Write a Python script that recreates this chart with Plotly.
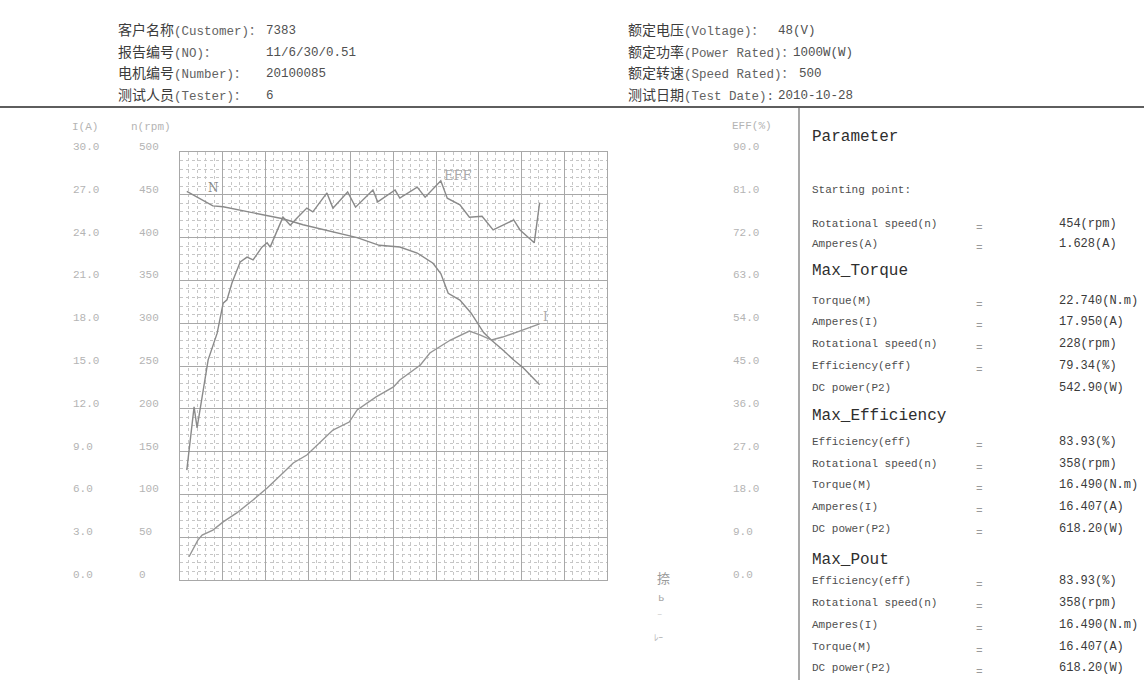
import plotly.graph_objects as go

W, H = 1144, 680
MONO = "Liberation Mono, Noto Sans CJK SC, monospace"

# ---- curve data (x = torque, N.m) ----
speed_torque = [0.43, 2.08, 2.73, 4.62, 6.51, 7.78, 9.94, 11.2, 12.6, 13.9, 15.0, 16.0,
                16.49, 16.96, 17.7, 18.4, 19.2, 19.7, 20.4, 21.1, 21.7, 22.3, 22.74]
speed_rpm = [454, 437, 436, 429, 422, 415, 405, 400, 391, 389, 382, 370,
             358, 335, 327, 312, 289, 280, 269, 257, 248, 237, 228]

eff_torque = [0.43, 0.89, 1.08, 1.78, 2.35, 2.73, 2.97, 3.29, 3.81, 4.24, 4.62, 5.18,
              5.51, 5.70, 6.51, 6.97, 7.40, 8.02, 8.40, 9.29, 9.67, 10.6, 11.1, 12.2,
              12.5, 13.6, 13.9, 15.0, 15.5, 16.49, 16.9, 17.7, 18.3, 19.1, 19.8, 21.1,
              21.5, 22.4, 22.74]
eff_pct = [23.1, 36.4, 32.0, 46.3, 51.9, 58.2, 58.9, 62.5, 66.9, 67.9, 67.3, 70.0,
           70.9, 70.0, 76.3, 74.6, 76.1, 78.2, 77.4, 81.4, 78.2, 81.6, 78.4, 82.0,
           79.5, 82.0, 80.3, 82.6, 80.5, 83.93, 80.3, 78.9, 76.3, 76.5, 73.6, 75.7,
           73.6, 70.9, 79.34]

amp_torque = [0.57, 1.13, 1.40, 2.08, 2.73, 3.59, 4.62, 5.51, 6.51, 7.16, 8.02, 8.67,
              9.67, 10.7, 11.2, 12.4, 13.5, 13.9, 15.2, 15.8, 16.49, 17.1, 18.3, 19.0,
              19.7, 20.4, 21.3, 22.0, 22.74]
amp_a = [1.628, 2.80, 3.15, 3.50, 4.07, 4.70, 5.61, 6.45, 7.50, 8.20, 8.76, 9.46,
         10.51, 11.07, 11.92, 12.83, 13.53, 14.02, 15.07, 15.91, 16.407, 16.82, 17.45, 17.17,
         16.82, 17.03, 17.38, 17.66, 17.95]

# ---- axis tick labels ----
current_ticks = [0, 3, 6, 9, 12, 15, 18, 21, 24, 27, 30]
speed_ticks = [0, 50, 100, 150, 200, 250, 300, 350, 400, 450, 500]
eff_ticks = [0, 9, 18, 27, 36, 45, 54, 63, 72, 81, 90]

# ---- report header ----
header_left = [
    ("客户名称", "(Customer)：", "7383"),
    ("报告编号", "(NO)：", "11/6/30/0.51"),
    ("电机编号", "(Number)：", "20100085"),
    ("测试人员", "(Tester)：", "6"),
]
header_right = [
    ("额定电压", "(Voltage)：", "48(V)", 777),
    ("额定功率", "(Power Rated)：", "1000W(W)", 792),
    ("额定转速", "(Speed Rated)：", "500", 798),
    ("测试日期", "(Test Date):", "2010-10-28", 777),
]
header_rows_y = [31, 53, 74, 96]

# ---- parameter panel: (kind, label, value, has "=" sign, y) ----
panel_rows = [
    ("title", "Parameter", "", False, 137),
    ("text", "Starting point:", "", False, 190),
    ("text", "Rotational speed(n)", "454(rpm)", True, 224),
    ("text", "Amperes(A)", "1.628(A)", True, 244),
    ("title", "Max_Torque", "", False, 271),
    ("text", "Torque(M)", "22.740(N.m)", True, 301),
    ("text", "Amperes(I)", "17.950(A)", True, 322),
    ("text", "Rotational speed(n)", "228(rpm)", True, 344),
    ("text", "Efficiency(eff)", "79.34(%)", True, 366),
    ("text", "DC power(P2)", "542.90(W)", False, 388),
    ("title", "Max_Efficiency", "", False, 416),
    ("text", "Efficiency(eff)", "83.93(%)", True, 442),
    ("text", "Rotational speed(n)", "358(rpm)", True, 464),
    ("text", "Torque(M)", "16.490(N.m)", True, 485),
    ("text", "Amperes(I)", "16.407(A)", True, 507),
    ("text", "DC power(P2)", "618.20(W)", True, 529),
    ("title", "Max_Pout", "", False, 560),
    ("text", "Efficiency(eff)", "83.93(%)", True, 581),
    ("text", "Rotational speed(n)", "358(rpm)", True, 603),
    ("text", "Amperes(I)", "16.490(N.m)", True, 625),
    ("text", "Torque(M)", "16.407(A)", True, 647),
    ("text", "DC power(P2)", "618.20(W)", True, 668),
]

CURVE = "#8a8a8a"
MAJOR = "#a8a8a8"
MINOR = "#c6c6c6"
AXIS_TXT = "#b4b4b4"


def px(x):
    return x / W


def py(y):
    return 1 - y / H


annotations = []


def text_at(x, y, text, size, color, anchor="left", family=MONO):
    annotations.append(dict(
        x=px(x), y=py(y), xref="paper", yref="paper", text=text, showarrow=False,
        xanchor=anchor, yanchor="middle", borderpad=0,
        font=dict(family=family, size=size, color=color)))


# header block
for (cn, en, val), y in zip(header_left, header_rows_y):
    text_at(117, y, f'<span style="color:#3c3c3c;font-size:14px">{cn}</span>{en}', 12.5, "#626262")
    text_at(265, y, val, 12.5, "#505050")
for (cn, en, val, vx), y in zip(header_right, header_rows_y):
    text_at(627, y, f'<span style="color:#3c3c3c;font-size:14px">{cn}</span>{en}', 12.5, "#626262")
    text_at(vx, y, val, 12.5, "#505050")

# axis titles
text_at(71, 127, "I(A)", 11, AXIS_TXT)
text_at(130, 127, "n(rpm)", 11, AXIS_TXT)
text_at(731, 126, "EFF(%)", 11, AXIS_TXT)

# axis tick labels placed through each curve's own y axis
for v in current_ticks:
    annotations.append(dict(x=px(71), y=v, xref="paper", yref="y2", text=f"{v:.1f}",
                            showarrow=False, xanchor="left", yanchor="middle", yshift=5,
                            font=dict(family=MONO, size=11, color=AXIS_TXT)))
for v in speed_ticks:
    annotations.append(dict(x=px(137), y=v, xref="paper", yref="y", text=f"{v}",
                            showarrow=False, xanchor="left", yanchor="middle", yshift=5,
                            font=dict(family=MONO, size=11, color=AXIS_TXT)))
for v in eff_ticks:
    annotations.append(dict(x=px(731), y=v, xref="paper", yref="y3", text=f"{v:.1f}",
                            showarrow=False, xanchor="left", yanchor="middle", yshift=5,
                            font=dict(family=MONO, size=11, color=AXIS_TXT)))

# hand-written curve names
annotations.append(dict(x=2.1, y=458, xref="x", yref="y", text="N", showarrow=False,
                        font=dict(family="DejaVu Serif", size=12, color="#8a8a8a")))
annotations.append(dict(x=17.6, y=473, xref="x", yref="y", text="EFF", showarrow=False,
                        font=dict(family="DejaVu Serif", size=13, color="#ababab")))
annotations.append(dict(x=23.1, y=307, xref="x", yref="y", text="I", showarrow=False,
                        font=dict(family="DejaVu Serif", size=12, color="#ababab")))

# parameter panel
for kind, label, val, eq, y in panel_rows:
    if kind == "title":
        text_at(811, y, label, 16, "#2e2e2e")
    else:
        text_at(811, y, label, 11, "#4e4e4e")
    if eq:
        text_at(975, y + 4, "=", 11, "#9a9a9a")
    if val:
        text_at(1058, y, val, 12, "#3a3a3a")

# faint marks on the paper
text_at(656, 577, "捺", 13, "#9a9a9a", family="Noto Sans CJK SC")
text_at(657, 598, "ь", 11, "#a8a8a8")
text_at(656, 615, "‒", 9, "#cccccc")
text_at(653, 637, "ﾚｰ", 9, "#b0b0b0", family="Noto Sans CJK JP")

fig = go.Figure()
fig.add_trace(go.Scatter(x=speed_torque, y=speed_rpm, mode="lines", yaxis="y",
                         line=dict(color=CURVE, width=1.4), name="n"))
fig.add_trace(go.Scatter(x=eff_torque, y=eff_pct, mode="lines", yaxis="y3",
                         line=dict(color=CURVE, width=1.4), name="EFF"))
fig.add_trace(go.Scatter(x=amp_torque, y=amp_a, mode="lines", yaxis="y2",
                         line=dict(color="#959595", width=1.4), name="I"))

grid_common = dict(showticklabels=False, ticks="", zeroline=False, showline=True, mirror=True,
                   linecolor=MAJOR, linewidth=1, showgrid=True, gridcolor=MAJOR, gridwidth=1,
                   fixedrange=True)

fig.update_layout(
    width=W, height=H,
    margin=dict(l=0, r=0, t=0, b=0),
    paper_bgcolor="white", plot_bgcolor="white",
    showlegend=False,
    xaxis=dict(domain=[180 / W, 607 / W], range=[0, 27], tick0=0, dtick=2.7,
               minor=dict(tick0=0, dtick=0.54, showgrid=True, gridcolor=MINOR,
                          griddash="dot", gridwidth=1),
               **grid_common),
    yaxis=dict(domain=[1 - 580 / H, 1 - 152 / H], range=[0, 500], tick0=0, dtick=50,
               minor=dict(tick0=0, dtick=10, showgrid=True, gridcolor=MINOR,
                          griddash="dot", gridwidth=1),
               **grid_common),
    yaxis2=dict(overlaying="y", range=[0, 30], visible=False, fixedrange=True),
    yaxis3=dict(overlaying="y", range=[0, 90], visible=False, fixedrange=True),
    annotations=annotations,
    shapes=[
        dict(type="line", xref="paper", yref="paper", x0=0, x1=1, y0=py(107), y1=py(107),
             line=dict(color="#5e5e5e", width=2)),
        dict(type="line", xref="paper", yref="paper", x0=px(799), x1=px(799),
             y0=py(108), y1=0, line=dict(color="#8c8c8c", width=1.5)),
    ],
)

fig.write_html("out.html")
